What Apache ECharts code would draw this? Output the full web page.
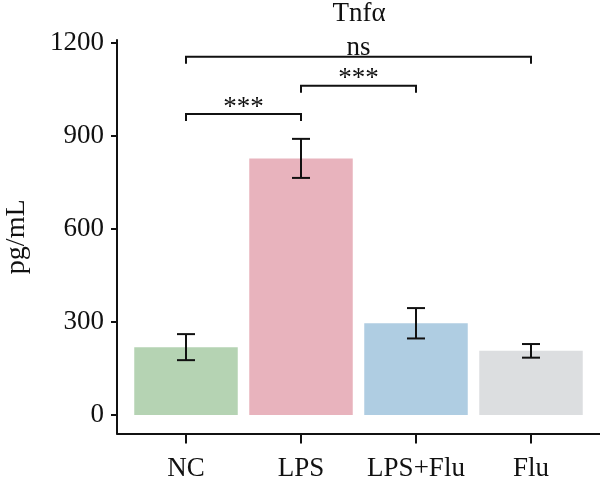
<!DOCTYPE html>
<html><head><meta charset="utf-8">
<script src="https://cdn.jsdelivr.net/npm/echarts@6/dist/echarts.min.js"></script>
<style>html,body{margin:0;padding:0;background:#fff}#c{width:600px;height:477px}</style>
</head><body><div id="c"></div>
<script>
const categories = ['NC', 'LPS', 'LPS+Flu', 'Flu'];
const means = [219, 828, 296, 207];
const errors = [42, 63, 49, 22];
const barColors = ['#b5d3b3', '#e8b3bd', '#afcde2', '#dcdee0'];
const yTicks = [0, 300, 600, 900, 1200];
// significance brackets: [fromIndex, toIndex, height, label]
const brackets = [
  [0, 1, 971, '***'],
  [1, 2, 1062, '***'],
  [0, 3, 1156, 'ns']
];
const FONT = '"Liberation Serif", "DejaVu Serif", serif';

const chart = echarts.init(document.getElementById('c'), null, {renderer: 'canvas'});
chart.setOption({
  animation: false,
  backgroundColor: '#fff',
  title: {
    text: 'Tnfα', left: 359, top: 0, padding: 0, textAlign: 'center',
    textStyle: {fontFamily: FONT, fontSize: 27, fontWeight: 'normal', color: '#111'}
  },
  grid: {left: 117, right: 0, top: 40, bottom: 43.4, containLabel: false, outerBoundsMode: 'none'},
  xAxis: {
    type: 'value', min: -0.6, max: 3.6,
    splitLine: {show: false},
    axisLine: {show: true, onZero: false, lineStyle: {color: '#111', width: 2}},
    axisTick: {show: true, length: 10, lineStyle: {color: '#111', width: 2}, customValues: [0, 1, 2, 3]},
    axisLabel: {customValues: [0, 1, 2, 3], formatter: v => categories[Math.round(v)],
      fontFamily: FONT, fontSize: 27, color: '#111', margin: 22}
  },
  yAxis: {
    type: 'value', min: -60, max: 1210,
    name: 'pg/mL', nameLocation: 'middle', nameGap: 86,
    nameTextStyle: {fontFamily: FONT, fontSize: 28, color: '#111'},
    splitLine: {show: false},
    axisLine: {show: true, onZero: false, lineStyle: {color: '#111', width: 2}},
    axisTick: {show: true, length: 6, lineStyle: {color: '#111', width: 2}, customValues: yTicks},
    axisLabel: {customValues: yTicks, formatter: v => String(v), fontFamily: FONT, fontSize: 27, color: '#111', margin: 13}
  },
  series: [
    {
      type: 'bar', barWidth: 103.5,
      data: means.map((m, i) => ({value: [i, m], itemStyle: {color: barColors[i]}}))
    },
    {
      type: 'custom', z: 5,
      data: means.map((m, i) => [i, m - errors[i], m + errors[i]]),
      renderItem: function (params, api) {
        const lo = api.coord([api.value(0), api.value(1)]);
        const hi = api.coord([api.value(0), api.value(2)]);
        const w = 9;
        const st = {stroke: '#111', lineWidth: 2};
        return {type: 'group', children: [
          {type: 'line', shape: {x1: lo[0], y1: lo[1], x2: hi[0], y2: hi[1]}, style: st},
          {type: 'line', shape: {x1: lo[0] - w, y1: lo[1], x2: lo[0] + w, y2: lo[1]}, style: st},
          {type: 'line', shape: {x1: hi[0] - w, y1: hi[1], x2: hi[0] + w, y2: hi[1]}, style: st}
        ]};
      }
    },
    {
      type: 'custom', z: 5,
      data: brackets.map(b => [b[0], b[1], b[2]]),
      renderItem: function (params, api) {
        const b = brackets[params.dataIndex];
        const a = api.coord([b[0], b[2]]);
        const c = api.coord([b[1], b[2]]);
        const drop = 7;
        const isStar = b[3] !== 'ns';
        return {type: 'group', children: [
          {type: 'polyline', shape: {points: [[a[0], a[1] + drop], [a[0], a[1]], [c[0], c[1]], [c[0], c[1] + drop]]},
            style: {stroke: '#111', lineWidth: 2, fill: null}},
          {type: 'text', x: (a[0] + c[0]) / 2, y: isStar ? a[1] - 20 : a[1] - 22,
            style: {text: b[3], fontFamily: FONT, fontSize: 27, fill: '#111',
              align: 'center', verticalAlign: 'top'}}
        ]};
      }
    }
  ]
});
</script></body></html>
